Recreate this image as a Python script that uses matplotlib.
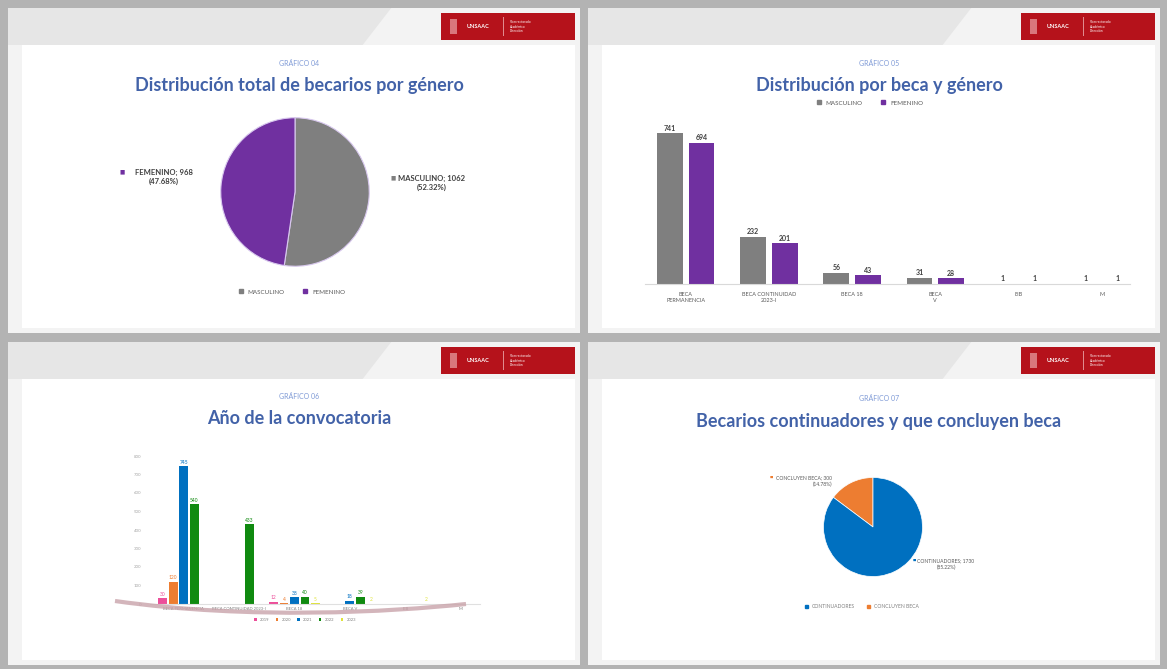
import numpy as np
import matplotlib.pyplot as plt
from matplotlib.patches import Rectangle, Polygon, PathPatch, Patch
from matplotlib.path import Path

plt.rcParams['font.family'] = ['Lato', 'DejaVu Sans']

# --- datos ---
genero = ["MASCULINO", "FEMENINO"]
genero_total = [1062, 968]

becas = ["BECA\nPERMANENCIA", "BECA CONTINUIDAD\n2023-I", "BECA 18", "BECA\nV", "EIB", "M"]
beca_masc = [741, 232, 56, 31, 1, 1]
beca_fem = [694, 201, 43, 28, 1, 1]

becas_conv = ["BECA PERMANENCIA", "BECA CONTINUIDAD 2023-I", "BECA 18", "BECA V", "EIB", "M"]
anios = ["2019", "2020", "2021", "2022", "2023"]
conv_2019 = [30, 0, 12, 0, 0, 0]
conv_2020 = [120, 0, 4, 0, 0, 0]
conv_2021 = [745, 0, 38, 18, 0, 0]
conv_2022 = [540, 433, 40, 39, 0, 0]
conv_2023 = [0, 0, 5, 2, 2, 2]

estado = ["CONTINUADORES", "CONCLUYEN BECA"]
estado_total = [1730, 300]

GRIS, MORADO = '#7f7f7f', '#7030a0'
AZUL, NARANJA = '#0070c0', '#ed7d31'
col_anios = ['#ec4f9a', NARANJA, AZUL, '#108a10', '#dfe33a']
TIT = '#4262a8'

W, H = 1167, 669
fig = plt.figure(figsize=(W / 100, H / 100), dpi=100, facecolor='#b3b3b3')


def fbox(x0, y0, x1, y1):
    return [x0 / W, 1 - y1 / H, (x1 - x0) / W, (y1 - y0) / H]


def frect(x0, y0, x1, y1, z=-5, **kw):
    fig.add_artist(Rectangle((x0 / W, 1 - y1 / H), (x1 - x0) / W, (y1 - y0) / H,
                             transform=fig.transFigure, lw=0, zorder=z, **kw))


def ftext(x, y, s, **kw):
    fig.text(x / W, 1 - y / H, s, **kw)


def panel(x0, y0, x1, y1, num, titulo, ty):
    frect(x0, y0, x1, y1, color='#f3f3f3', z=-10)
    # banda superior diagonal
    pts = [(x0, y0), (x0 + 0.67 * (x1 - x0), y0), (x0 + 0.62 * (x1 - x0), y0 + 37), (x0, y0 + 37)]
    fig.add_artist(Polygon([(px / W, 1 - py / H) for px, py in pts], closed=True,
                           transform=fig.transFigure, color='#e6e6e6', lw=0, zorder=-9))
    frect(x0 + 14, y0 + 37, x1 - 5, y1 - 5, color='white', z=-8)
    # logo rojo
    frect(x1 - 139, y0 + 5, x1 - 5, y0 + 32, color='#b5121b', z=-7)
    frect(x1 - 130, y0 + 11, x1 - 123, y0 + 26, color='#d9777c', z=-6)
    ftext(x1 - 102, y0 + 18.5, "UNSAAC", fontsize=4, color='white', weight='bold', va='center', ha='center')
    frect(x1 - 77, y0 + 9, x1 - 76, y0 + 28, color='#e08a8e', z=-6)
    ftext(x1 - 70, y0 + 18.5, "Vicerrectorado\nAcadémico\nDirección", fontsize=2.3,
          color='white', va='center', linespacing=1.1)
    ftext((x0 + x1) / 2 + 5, ty - 22, num, fontsize=5, color='#7f9ad6', ha='center', va='center')
    ftext((x0 + x1) / 2 + 5, ty, titulo, fontsize=13, color=TIT, ha='center', va='center', weight='bold')


panel(8, 8, 580, 333, "GRÁFICO 04", "Distribución total de becarios por género", 85)
panel(588, 8, 1160, 333, "GRÁFICO 05", "Distribución por beca y género", 85)
panel(8, 342, 580, 665, "GRÁFICO 06", "Año de la convocatoria", 418)
panel(588, 342, 1160, 665, "GRÁFICO 07", "Becarios continuadores y que concluyen beca", 421)

# --- gráfico 04: pie por género ---
ax1 = fig.add_axes(fbox(220, 117, 370, 267))
ax1.pie(genero_total, colors=[GRIS, MORADO], startangle=90, counterclock=False,
        wedgeprops=dict(edgecolor='#d8c8ee', linewidth=0.8))
ax1.set_xlim(-1.01, 1.01)
ax1.set_ylim(-1.01, 1.01)
tot = sum(genero_total)
lab_pos = [(432, 183, GRIS, 393), (164, 177, MORADO, 122)]
for (lx, ly, c, mx), n, v in zip(lab_pos, genero, genero_total):
    ftext(lx, ly, f"{n}; {v}\n({v / tot * 100:.2f}%)", fontsize=5.5, weight='bold',
          color='#404040', ha='center', va='center', linespacing=1.3)
    ftext(mx, ly - 5, "■", fontsize=4, color=c, ha='center', va='center')
fig.legend([Patch(color=GRIS), Patch(color=MORADO)], genero, loc='center',
           bbox_to_anchor=(292 / W, 1 - 292 / H), ncol=2, frameon=False, fontsize=4.5,
           handlelength=0.6, handleheight=0.6, columnspacing=3, labelcolor='#595959')

# --- gráfico 05: barras beca y género ---
ax2 = fig.add_axes(fbox(645, 115, 1130, 284))
x = np.arange(len(becas))
b1 = ax2.bar(x - 0.19, beca_masc, 0.31, color=GRIS)
b2 = ax2.bar(x + 0.19, beca_fem, 0.31, color=MORADO)
ax2.bar_label(b1, fontsize=5, color='#404040', weight='bold', padding=1)
ax2.bar_label(b2, fontsize=5, color='#404040', weight='bold', padding=1)
ax2.set_xlim(-0.49, 5.34)
ax2.set_ylim(0, 830)
ax2.set_xticks(x, becas, fontsize=4, color='#595959')
ax2.tick_params(length=0, pad=6)
ax2.set_yticks([])
for s in ['top', 'right', 'left']:
    ax2.spines[s].set_visible(False)
ax2.spines['bottom'].set_color('#d9d9d9')
ax2.patch.set_alpha(0)
fig.legend([Patch(color=GRIS), Patch(color=MORADO)], genero, loc='center',
           bbox_to_anchor=(870 / W, 1 - 103 / H), ncol=2, frameon=False, fontsize=4.5,
           handlelength=0.6, handleheight=0.6, columnspacing=3, labelcolor='#595959')

# --- gráfico 06: año de la convocatoria ---
ax3 = fig.add_axes(fbox(150, 456, 480, 604))
series = [conv_2019, conv_2020, conv_2021, conv_2022, conv_2023]
x3 = np.arange(len(becas_conv))
hs = []
for i, (vals, c) in enumerate(zip(series, col_anios)):
    b = ax3.bar(x3 + (i - 2) * 0.19, vals, 0.16, color=c)
    ax3.bar_label(b, labels=[str(v) if v else '' for v in vals], fontsize=3.5, color=c, padding=1)
    hs.append(b)
ax3.set_xlim(-0.61, 5.35)
ax3.set_ylim(0, 800)
ax3.set_yticks(np.arange(0, 801, 100))
ax3.tick_params(axis='y', labelsize=3.2, labelcolor='#a6a6a6', length=0, pad=6)
ax3.set_xticks(x3, becas_conv, fontsize=3, color='#808080')
ax3.tick_params(axis='x', length=0, pad=2)
for s in ['top', 'right', 'left']:
    ax3.spines[s].set_visible(False)
ax3.spines['bottom'].set_color('#e0e0e0')
ax3.patch.set_alpha(0)
# franja curva decorativa
verts = [(115, 601), (250, 620), (390, 612), (466, 604)]
path = Path([(vx / W, 1 - vy / H) for vx, vy in verts],
            [Path.MOVETO, Path.CURVE4, Path.CURVE4, Path.CURVE4])
fig.add_artist(PathPatch(path, transform=fig.transFigure, fill=False, lw=3, ec='#c9a3aa',
                         alpha=0.8, zorder=1))
fig.legend(hs, anios, loc='center', bbox_to_anchor=(305 / W, 1 - 620 / H), ncol=5,
           frameon=False, fontsize=3, handlelength=0.6, handleheight=0.6, columnspacing=1.5,
           labelcolor='#808080')

# --- gráfico 07: continuadores vs concluyen ---
ax4 = fig.add_axes(fbox(823, 477, 923, 577))
ax4.pie(estado_total[::-1], colors=[NARANJA, AZUL], startangle=90, counterclock=True,
        wedgeprops=dict(edgecolor='white', linewidth=0.5))
ax4.set_xlim(-1.01, 1.01)
ax4.set_ylim(-1.01, 1.01)
tot4 = sum(estado_total)
ftext(946, 564, f"{estado[0]}; {estado_total[0]}\n({estado_total[0] / tot4 * 100:.2f}%)",
      fontsize=3.6, color='#595959', ha='center', va='center', linespacing=1.4)
ftext(914, 560, "■", fontsize=2.5, color=AZUL, ha='center', va='center')
ftext(832, 481, f"{estado[1]}; {estado_total[1]}\n({estado_total[1] / tot4 * 100:.2f}%)",
      fontsize=3.6, color='#595959', ha='right', va='center', linespacing=1.4, multialignment='right')
ftext(771, 477, "■", fontsize=2.5, color=NARANJA, ha='center', va='center')
fig.legend([Patch(color=AZUL), Patch(color=NARANJA)], estado, loc='center',
           bbox_to_anchor=(862 / W, 1 - 607 / H), ncol=2, frameon=False, fontsize=3.6,
           handlelength=0.6, handleheight=0.6, columnspacing=2.5, labelcolor='#808080')

fig.savefig('out.png', dpi=100, facecolor=fig.get_facecolor())
